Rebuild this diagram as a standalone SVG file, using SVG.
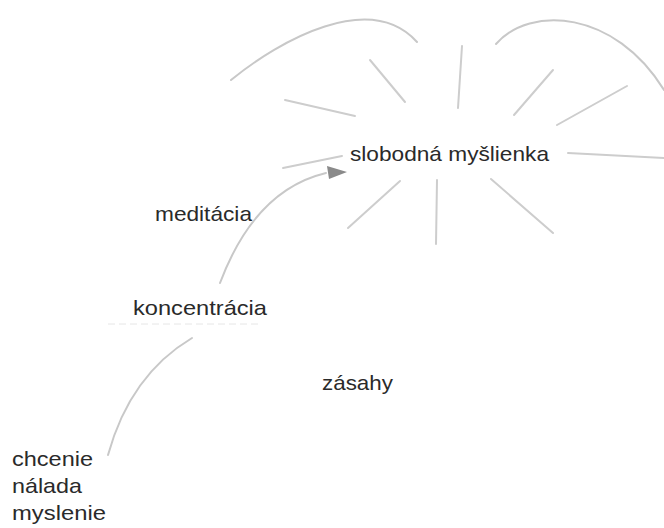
<svg xmlns="http://www.w3.org/2000/svg" width="664" height="528" viewBox="0 0 664 528">
  <style>
    .lbl { font-family: "Liberation Sans", Arial, sans-serif; font-size: 21px; fill: #2a2a2a; }
    .edge { fill: none; stroke: #c8c8c8; stroke-width: 2; stroke-linecap: round; }
    .ray { fill: none; stroke: #cdcdcd; stroke-width: 2; stroke-linecap: round; }
  </style>
  <rect width="664" height="528" fill="#ffffff"/>
  <g id="connectors">
    <path class="edge" d="M231,80 C280,40 370,-10 417,42"/>
    <path class="edge" d="M496,44 C530,5 615,10 664,90"/>
    <line class="ray" x1="285" y1="100" x2="355" y2="116"/>
    <line class="ray" x1="370" y1="60" x2="405" y2="102"/>
    <line class="ray" x1="462" y1="46" x2="458" y2="108"/>
    <line class="ray" x1="553" y1="70" x2="514" y2="115"/>
    <line class="ray" x1="627" y1="86" x2="557" y2="125"/>
    <line class="ray" x1="568" y1="153" x2="664" y2="158"/>
    <line class="ray" x1="283" y1="168" x2="342" y2="156"/>
    <line class="ray" x1="400" y1="181" x2="348" y2="228"/>
    <line class="ray" x1="437" y1="180" x2="436" y2="244"/>
    <line class="ray" x1="491" y1="179" x2="553" y2="233"/>
    <path class="edge" d="M220,283 Q255,190 326,173"/>
    <path d="M327,166 L347,172 L329,179 z" fill="#8a8a8a"/>
    <path class="edge" d="M108,455 Q130,375 192,338"/>
  </g>
  <g id="node-slobodna">
    <text class="lbl" x="350" y="161" textLength="199" lengthAdjust="spacingAndGlyphs">slobodná myšlienka</text>
  </g>
  <g id="node-meditacia">
    <text class="lbl" x="155" y="221" textLength="97" lengthAdjust="spacingAndGlyphs">meditácia</text>
  </g>
  <g id="node-koncentracia">
    <text class="lbl" x="133" y="315" textLength="134" lengthAdjust="spacingAndGlyphs">koncentrácia</text>
    <line x1="108" y1="324" x2="262" y2="324" stroke="#e6e6e6" stroke-width="1" stroke-dasharray="7,4"/>
  </g>
  <g id="node-zasahy">
    <text class="lbl" x="322" y="390" textLength="71" lengthAdjust="spacingAndGlyphs">zásahy</text>
  </g>
  <g id="node-chcenie">
    <text class="lbl" x="12" y="466" textLength="81" lengthAdjust="spacingAndGlyphs">chcenie</text>
    <text class="lbl" x="12" y="493" textLength="70" lengthAdjust="spacingAndGlyphs">nálada</text>
    <text class="lbl" x="12" y="520" textLength="94" lengthAdjust="spacingAndGlyphs">myslenie</text>
  </g>
</svg>
